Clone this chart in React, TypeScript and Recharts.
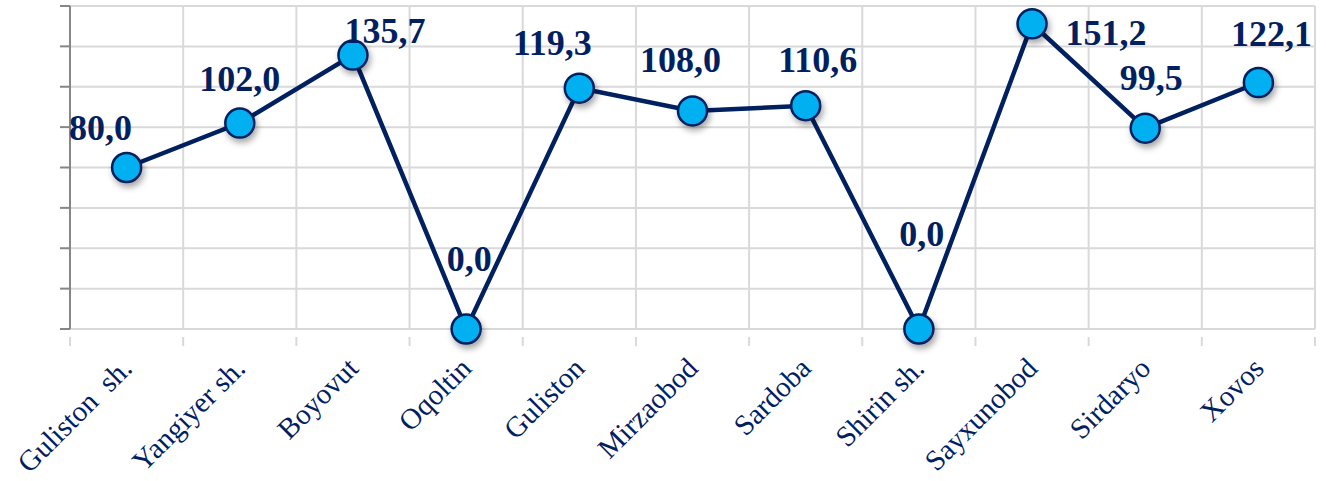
import React from 'react';
import { LineChart, Line, XAxis, YAxis, CartesianGrid } from 'recharts';

const CATEGORIES = [
  'Guliston  sh.', 'Yangiyer sh.', 'Boyovut', 'Oqoltin', 'Guliston', 'Mirzaobod',
  'Sardoba', 'Shirin sh.', 'Sayxunobod', 'Sirdaryo', 'Xovos',
];
const VALUES = [80.0, 102.0, 135.7, 0.0, 119.3, 108.0, 110.6, 0.0, 151.2, 99.5, 122.1];
const Y_TICKS = [0, 20, 40, 60, 80, 100, 120, 140, 160];

// label placement (layout, not data)
const LABEL_DX = [-26, 0, 32, 3, -27, -12, 12, 3, 74, 6, 13];
const LABEL_DY = [-28, -32, -12, -58, -33, -39, -34, -83, 21, -38, -37];

const data = CATEGORIES.map((name, i) => ({ name, value: VALUES[i] }));

const CHART_W = 1326;
const CHART_H = 481;
const MARGIN = { top: 6, right: 11, left: 0, bottom: 0 };
const YAXIS_W = 70;
const XAXIS_H = 152;
const PLOT_LEFT = MARGIN.left + YAXIS_W;
const PLOT_W = CHART_W - PLOT_LEFT - MARGIN.right;
const BAND = PLOT_W / CATEGORIES.length;

const NAVY = '#002060';
const CYAN = '#00b0f0';
const GRID = '#d9d9d9';
const AXIS = '#868686';

const fmt = (v: number) => v.toFixed(1).replace('.', ',');

const XTick = (props: any) => {
  const { x, y, payload, index } = props;
  const half = BAND / 2;
  const px = x + 7;
  const py = y + 33;
  return (
    <g>
      <line x1={x - half} x2={x - half} y1={y} y2={y + 9} stroke={GRID} strokeWidth={2} />
      {index === CATEGORIES.length - 1 && (
        <line x1={x + half} x2={x + half} y1={y} y2={y + 9} stroke={GRID} strokeWidth={2} />
      )}
      <text
        x={px}
        y={py}
        transform={`rotate(-45, ${px}, ${py})`}
        textAnchor="end"
        fill={NAVY}
        fontSize={29}
        fontFamily="'Liberation Serif', 'Times New Roman', serif"
        style={{ whiteSpace: 'pre' }}
      >
        {payload.value}
      </text>
    </g>
  );
};

const Dot = (props: any) => {
  const { cx, cy, index } = props;
  if (cx == null || cy == null) return <g key={`d${index}`} />;
  return (
    <circle
      key={`d${index}`}
      cx={cx}
      cy={cy}
      r={14.5}
      fill={CYAN}
      stroke={NAVY}
      strokeWidth={2.5}
      style={{ filter: 'drop-shadow(2px 4px 3px rgba(0,0,0,0.35))' }}
    />
  );
};

const ValueLabel = (props: any) => {
  const { x, y, value, index } = props;
  return (
    <text
      key={`l${index}`}
      x={x + LABEL_DX[index]}
      y={y + LABEL_DY[index]}
      textAnchor="middle"
      fill={NAVY}
      fontSize={36}
      fontWeight="bold"
      fontFamily="'Liberation Serif', 'Times New Roman', serif"
    >
      {fmt(Number(value))}
    </text>
  );
};

export default function App() {
  return (
    <div style={{ position: 'absolute', left: 0, top: 0, width: CHART_W, height: CHART_H, background: '#fff' }}>
      <LineChart width={CHART_W} height={CHART_H} data={data} margin={MARGIN}>
        <CartesianGrid
          stroke={GRID}
          strokeWidth={2}
          verticalCoordinatesGenerator={(p: any) => {
            const left = p?.offset?.left ?? PLOT_LEFT;
            const w = p?.offset?.width ?? PLOT_W;
            return CATEGORIES.map((_, i) => left + (i * w) / CATEGORIES.length).concat([left + w]);
          }}
        />
        <XAxis
          dataKey="name"
          interval={0}
          height={XAXIS_H}
          padding={{ left: BAND / 2, right: BAND / 2 }}
          axisLine={{ stroke: GRID, strokeWidth: 2 }}
          tickLine={false}
          tick={XTick}
        />
        <YAxis
          width={YAXIS_W}
          domain={[0, 160]}
          ticks={Y_TICKS}
          interval={0}
          tickSize={10}
          axisLine={{ stroke: AXIS, strokeWidth: 2 }}
          tickLine={{ stroke: AXIS, strokeWidth: 2 }}
          tick={() => <g />}
        />
        <Line
          dataKey="value"
          stroke={NAVY}
          strokeWidth={4.5}
          isAnimationActive={false}
          dot={Dot}
          activeDot={false}
          label={ValueLabel}
        />
      </LineChart>
    </div>
  );
}
